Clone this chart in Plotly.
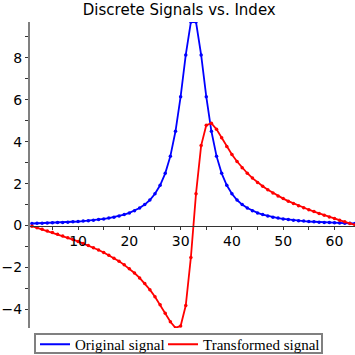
import plotly.graph_objects as go

index = list(range(1, 65))

original_signal = [
    0.100, 0.107, 0.114, 0.122, 0.131, 0.141, 0.152, 0.164,
    0.179, 0.194, 0.213, 0.233, 0.257, 0.285, 0.317, 0.356,
    0.401, 0.456, 0.522, 0.603, 0.705, 0.834, 1.000, 1.219,
    1.513, 1.918, 2.488, 3.308, 4.492, 6.140, 8.129, 9.700,
    9.700, 8.129, 6.140, 4.492, 3.308, 2.488, 1.918, 1.513,
    1.219, 1.000, 0.834, 0.705, 0.603, 0.522, 0.456, 0.401,
    0.356, 0.317, 0.285, 0.257, 0.233, 0.213, 0.194, 0.179,
    0.164, 0.152, 0.141, 0.131, 0.122, 0.114, 0.107, 0.100,
]

transformed_signal = [
    -0.028, -0.104, -0.180, -0.256, -0.334, -0.414, -0.495, -0.579,
    -0.666, -0.756, -0.850, -0.949, -1.054, -1.165, -1.285, -1.413,
    -1.552, -1.704, -1.871, -2.056, -2.262, -2.494, -2.756, -3.053,
    -3.391, -3.769, -4.180, -4.585, -4.875, -4.783, -3.812, -1.519,
    1.519, 3.812, 4.783, 4.875, 4.585, 4.180, 3.769, 3.391,
    3.053, 2.756, 2.494, 2.262, 2.056, 1.871, 1.704, 1.552,
    1.413, 1.285, 1.165, 1.054, 0.949, 0.850, 0.756, 0.666,
    0.579, 0.495, 0.414, 0.334, 0.256, 0.180, 0.104, 0.028,
]

series_names = ["Original signal", "Transformed signal"]
series_colors = ["#0000FF", "#FF0000"]
legend_ids = ["legend", "legend2"]

x_range = [0.63, 64]
y_range = [-4.88, 9.70]

W, H = 355, 355
ML, MR, MT, MB = 30, 0, 22, 27
PW, PH = W - ML - MR, H - MT - MB


def px_to_paper_x(px):
    return (px - ML) / PW


def px_to_paper_y(py):
    return (H - MB - py) / PH


fig = go.Figure()
for vals, name, col in zip([original_signal, transformed_signal], series_names, series_colors):
    fig.add_trace(go.Scatter(
        x=index, y=vals, mode="lines+markers", name=name, showlegend=False,
        line=dict(color=col, width=1.8),
        marker=dict(color=col, size=3.5, symbol="circle"),
    ))
for name, col, lid in zip(series_names, series_colors, legend_ids):
    fig.add_trace(go.Scatter(
        x=[None], y=[None], mode="lines", name=name, showlegend=True,
        legend=lid, line=dict(color=col, width=2),
    ))

y0_pos = (0 - y_range[0]) / (y_range[1] - y_range[0])

legend_common = dict(orientation="h", xanchor="left", yanchor="top",
                     y=px_to_paper_y(328), borderwidth=0,
                     bgcolor="rgba(0,0,0,0)",
                     font=dict(family="Liberation Serif", size=15, color="black"))

fig.update_layout(
    width=W, height=H,
    margin=dict(l=ML, r=MR, t=MT, b=MB, autoexpand=False),
    paper_bgcolor="white", plot_bgcolor="white",
    title=dict(text="Discrete Signals vs. Index", x=0.505, xanchor="center",
               y=1 - 9.5 / H, yanchor="middle",
               font=dict(family="DejaVu Sans", size=15, color="black")),
    xaxis=dict(range=x_range, anchor="free", position=y0_pos,
               showline=True, linecolor="#333333", linewidth=1,
               ticks="outside", ticklen=3, tickcolor="#333333", tickwidth=1,
               tick0=0, dtick=10,
               minor=dict(dtick=5, tick0=0, ticks="outside", ticklen=3, tickcolor="#333333"),
               showgrid=False, zeroline=False,
               tickfont=dict(family="DejaVu Sans", size=14, color="black")),
    yaxis=dict(range=y_range, showline=True, linecolor="#808080", linewidth=2,
               ticks="outside", ticklen=3, tickcolor="#333333", tickwidth=1,
               tick0=0, dtick=2,
               minor=dict(dtick=1, tick0=0, ticks="outside", ticklen=3, tickcolor="#333333"),
               showgrid=False, zeroline=False,
               tickfont=dict(family="DejaVu Sans", size=14, color="black")),
    legend=dict(x=px_to_paper_x(35), **legend_common),
    legend2=dict(x=px_to_paper_x(163), **legend_common),
    shapes=[dict(type="rect", xref="paper", yref="paper",
                 x0=px_to_paper_x(35), x1=px_to_paper_x(322),
                 y0=px_to_paper_y(353), y1=px_to_paper_y(334),
                 line=dict(color="#808080", width=2), fillcolor="rgba(0,0,0,0)",
                 layer="above")],
)

fig.write_html("out.html", config={"displayModeBar": False},
               post_script="document.body.style.margin='0';document.body.style.overflow='hidden';")
